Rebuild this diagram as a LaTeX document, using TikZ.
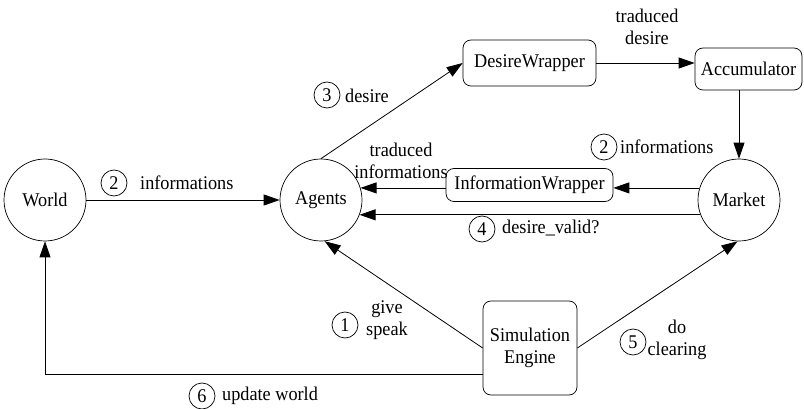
\documentclass[tikz,border=0pt]{standalone}
\usepackage{fontspec}
\setmainfont[FakeStretch=0.94]{Liberation Serif}
\usetikzlibrary{arrows.meta}
\begin{document}
\begin{tikzpicture}[x=1pt,y=-1pt,
 every node/.style={font=\fontsize{19.4}{22}\selectfont},
 circ/.style={draw, circle, minimum size=82pt, inner sep=0pt, line width=0.7pt},
 rbox/.style={draw, rounded corners=8pt, inner sep=0pt, align=center, line width=0.7pt},
 num/.style={draw, circle, minimum size=26pt, inner sep=0pt, line width=0.7pt},
 lbl/.style={align=center, inner sep=0pt},
 arr/.style={line width=0.8pt, -{Triangle[length=16pt,width=11pt]}},
 ]
\useasboundingbox (0,0) rectangle (804,409);
% main nodes
\node[circ] (world) at (45,200) {World};
\node[circ] (agents) at (321,200) {Agents};
\node[circ] (market) at (739,200) {Market};
\node[rbox, minimum width=133pt, minimum height=46pt] (dw) at (529.5,63) {DesireWrapper};
\node[rbox, minimum width=107pt, minimum height=42pt] (acc) at (748.5,69) {Accumulator};
\node[rbox, minimum width=167pt, minimum height=33pt] (iw) at (529.5,185) {InformationWrapper};
\node[rbox, minimum width=94pt, minimum height=94pt] (se) at (530,348) {Simulation\\Engine};
% connectors
\draw[arr] (world) -- (agents);
\draw[arr] (agents.north) -- (dw.west);
\draw[arr] (dw.east) -- (acc.west |- dw.east);
\draw[arr] (market.north |- acc.south) -- (market.north);
\draw[arr] (market.163) -- (iw.east |- market.163);
\draw[arr] (iw.west |- market.163) -- (agents.17);
\draw[arr] (market.201.5) -- (agents.-21.5);
\draw[arr] (se.west) -- (agents.-85);
\draw[arr] (se.east) -- (market.-92);
\coordinate (sew) at ([yshift=-26pt]se.west);
\draw[arr] (sew) -| (world.south);
% labels
\node[num] (n2a) at (114,183) {2};
\node[lbl, anchor=west] (l2a) at (140,183) {informations};
\node[num] (n3) at (327,95) {3};
\node[lbl, anchor=west] (l3) at (345,96) {desire};
\node[lbl] (ltd) at (647,27) {traduced\\desire};
\node[lbl] (lti) at (401,161) {traduced\\informations};
\node[num] (n2b) at (604,147) {2};
\node[lbl, anchor=west] (l2b) at (620,147) {informations};
\node[num] (n4) at (482,229) {4};
\node[lbl, anchor=west] (l4) at (502,228) {desire\_valid?};
\node[num] (n1) at (345,325) {1};
\node[lbl] (l1) at (387,320) {give\\speak};
\node[num] (n5) at (633,342) {5};
\node[lbl] (l5) at (677,340) {do\\clearing};
\node[num] (n6) at (202,396) {6};
\node[lbl, anchor=west] (l6) at (222,396) {update world};
\end{tikzpicture}
\end{document}
